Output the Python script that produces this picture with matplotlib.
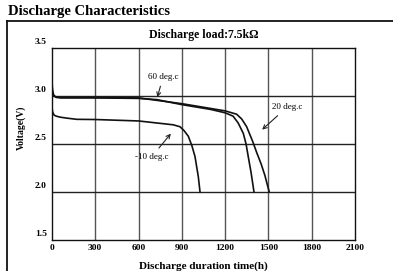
"""Discharge characteristics of a lithium cell at three temperatures."""

import matplotlib

matplotlib.use("Agg")

import matplotlib.pyplot as plt
from matplotlib.lines import Line2D

# Discharge duration (h) and voltage (V)
time_60 = [0, 3, 8, 15, 30, 60, 100, 300, 600, 728, 900, 1100, 1200, 1255, 1290, 1326, 1345, 1360, 1380, 1400]
volt_60 = [3.15, 3.08, 3.03, 3.0, 2.985, 2.98, 2.98, 2.98, 2.975, 2.962, 2.91, 2.86, 2.825, 2.79, 2.72, 2.61, 2.50, 2.37, 2.20, 2.0]

time_20 = [0, 5, 15, 30, 60, 100, 300, 600, 900, 1100, 1200, 1280, 1315, 1349, 1390, 1419, 1450, 1476, 1495, 1506]
volt_20 = [3.06, 3.02, 3.0, 2.99, 2.985, 2.985, 2.985, 2.98, 2.92, 2.87, 2.845, 2.81, 2.76, 2.68, 2.53, 2.41, 2.29, 2.17, 2.06, 2.0]

time_m10 = [0, 5, 15, 30, 55, 100, 171, 300, 600, 840, 887, 915, 945, 970, 991, 1014, 1026]
volt_m10 = [2.875, 2.83, 2.80, 2.79, 2.78, 2.77, 2.757, 2.755, 2.74, 2.70, 2.68, 2.64, 2.58, 2.48, 2.37, 2.16, 2.0]

x_ticks = [0, 300, 600, 900, 1200, 1500, 1800, 2100]
y_ticks = [1.5, 2.0, 2.5, 3.0, 3.5]

SERIF = ["Liberation Serif", "DejaVu Serif"]


def main() -> None:
    fig = plt.figure(figsize=(3.93, 2.71), dpi=100)
    ax = fig.add_axes([0.1323, 0.1144, 0.771, 0.7085])

    ax.set_xlim(0, 2100)
    ax.set_ylim(1.5, 3.5)
    ax.set_xticks(x_ticks)
    ax.set_yticks(y_ticks)
    ax.set_xticklabels([])
    ax.set_yticklabels([])
    ax.tick_params(length=0)
    for spine in ax.spines.values():
        spine.set_linewidth(1.0)
        spine.set_color("#111111")

    for xv in x_ticks[1:-1]:
        ax.axvline(xv, color="#555555", linewidth=1.0, zorder=1)
    for yv in y_ticks[1:-1]:
        ax.axhline(yv, color="#222222", linewidth=1.0, zorder=1)

    # tick labels sit a bit above the grid lines, as in the scan
    for xv in x_ticks:
        ax.text(xv, 1.5 - 0.045, f"{xv}", ha="center", va="top", fontsize=6.8,
                fontweight="bold", family=SERIF)
    for yv in y_ticks:
        ax.text(-35, yv + 0.025, f"{yv:.1f}", ha="right", va="bottom", fontsize=6.8,
                fontweight="bold", family=SERIF)

    for t, v in ((time_60, volt_60), (time_20, volt_20), (time_m10, volt_m10)):
        ax.plot(t, v, color="#111111", linewidth=1.2, zorder=3)

    arrow = dict(arrowstyle="->", color="#222222", linewidth=0.8, mutation_scale=7)
    ax.annotate("60 deg.c", xy=(725, 2.96), xytext=(770, 3.2), ha="center", va="center",
                fontsize=6.5, family=SERIF, arrowprops=arrow)
    ax.annotate("20 deg.c", xy=(1442, 2.63), xytext=(1630, 2.885), ha="center", va="center",
                fontsize=6.5, family=SERIF, arrowprops=arrow)
    ax.annotate("-10 deg.c", xy=(836, 2.63), xytext=(690, 2.365), ha="center", va="center",
                fontsize=6.5, family=SERIF, arrowprops=arrow)

    ax.set_title("Discharge load:7.5k\u03a9", fontsize=8.5, fontweight="bold",
                 family=SERIF, pad=7)
    fig.text(203 / 393, 1 - 266 / 271, "Discharge duration time(h)", ha="center", va="center",
             fontsize=8, fontweight="bold", family=SERIF)
    fig.text(21 / 393, 1 - 128 / 271, "Voltage(V)", ha="center", va="center", rotation=90,
             fontsize=7, fontweight="bold", family=SERIF)

    fig.text(8 / 393, 1 - 12 / 271, "Discharge Characteristics", ha="left", va="center",
             fontsize=10.5, fontweight="bold", family=SERIF)

    # outer frame of the datasheet panel
    fig.add_artist(Line2D([7 / 393, 7 / 393], [0, 1 - 21 / 271], color="#111111", linewidth=1.3))
    fig.add_artist(Line2D([7 / 393, 1], [1 - 21 / 271, 1 - 21 / 271], color="#111111", linewidth=1.3))

    fig.savefig("out.png", dpi=100)
    plt.close(fig)


if __name__ == "__main__":
    main()
